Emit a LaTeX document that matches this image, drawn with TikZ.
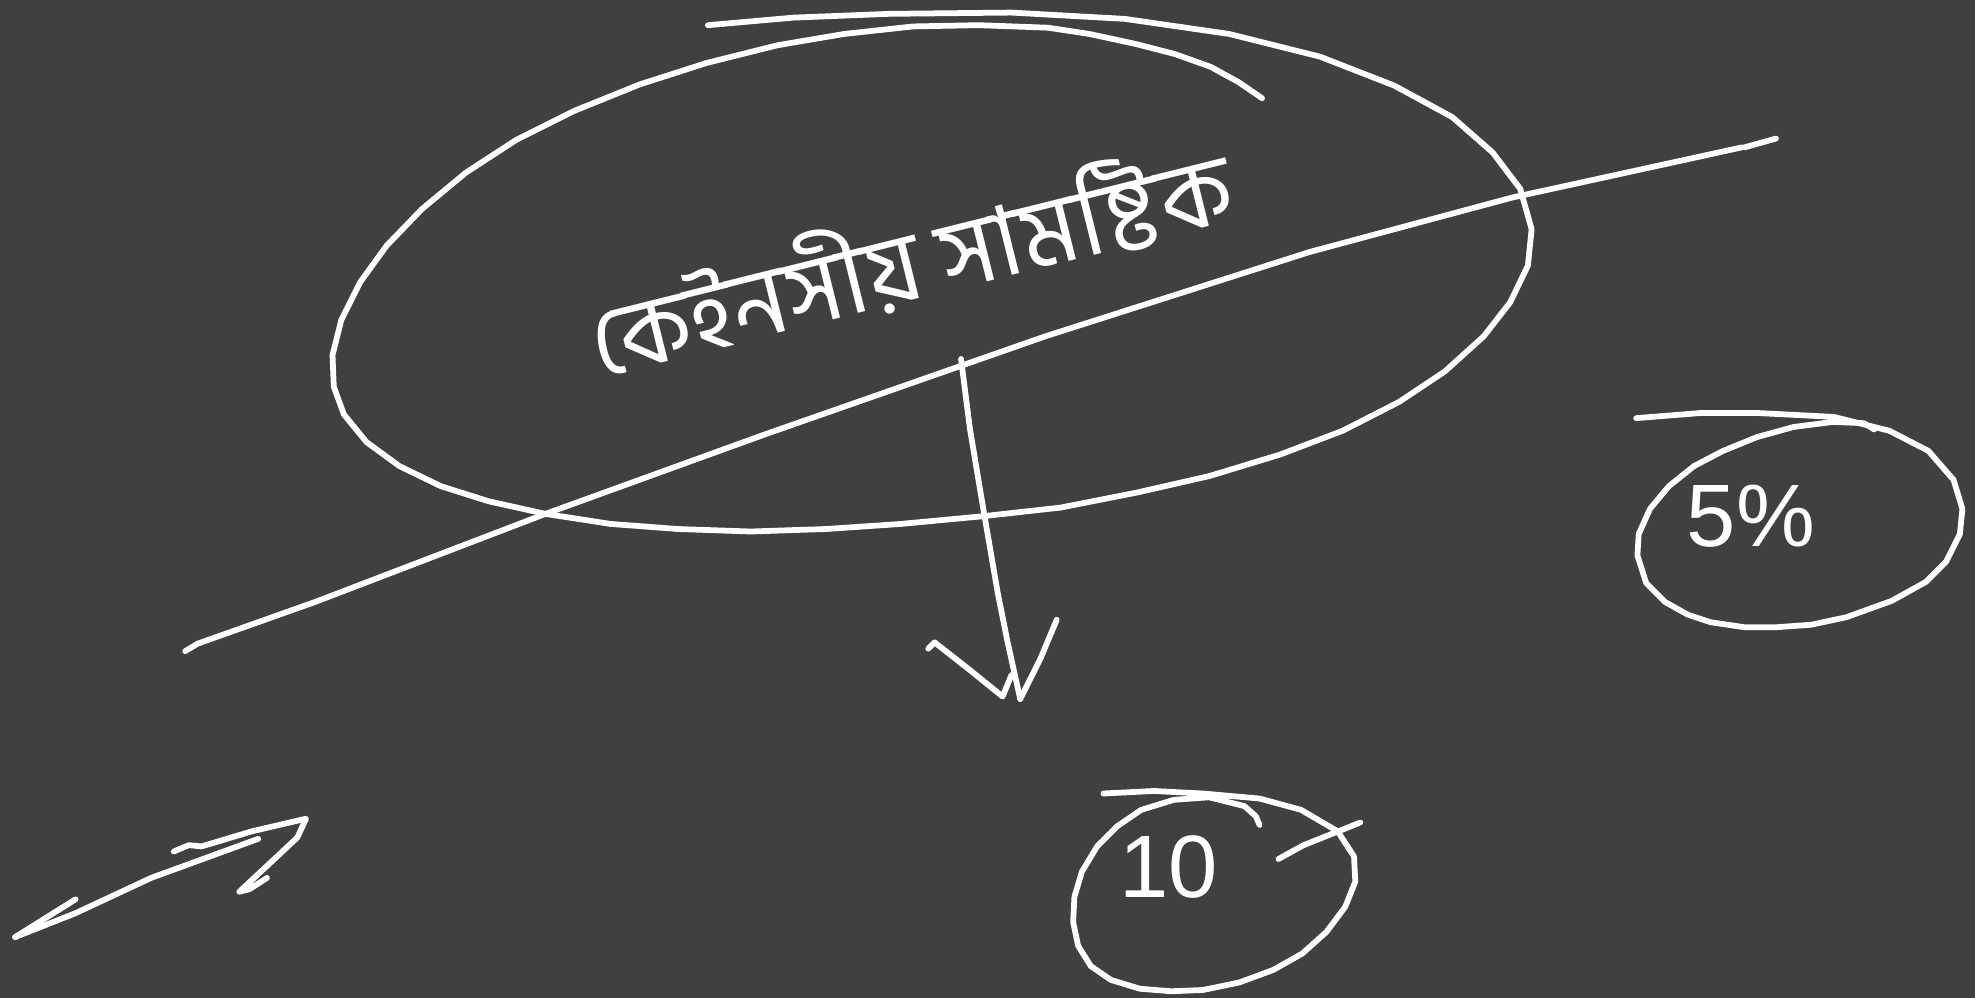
\documentclass[tikz,border=0pt]{standalone}
\usepackage{fontspec}
\newfontfamily\bengfont[Script=Bengali]{Hind Siliguri}
\setmainfont{Liberation Sans}
\definecolor{bg}{RGB}{64,64,64}
\tikzset{
  ink/.style={draw=white, line width=1.3pt, line cap=round, line join=round},
  handtext/.style={text=white, inner sep=0pt}
}
\begin{document}
\begin{tikzpicture}[x=0.01cm, y=-0.01cm]
\fill[bg] (0,0) rectangle (1568,792);
\useasboundingbox (0,0) rectangle (1568,792);

% big ellipse (hand drawn)
\draw[ink] (562,20) -- (630,14) -- (706,11) -- (803,10) -- (893,15) -- (976,27) -- (1048,45) -- (1107,68) -- (1153,93) -- (1185,121) -- (1207,150) -- (1216,182) -- (1213,211) -- (1199,240) -- (1178,267) -- (1147,295) -- (1111,319) -- (1066,342) -- (1016,361) -- (960,378) -- (903,391) -- (842,403) -- (779,410) -- (715,416) -- (656,420) -- (596,422) -- (538,420) -- (485,416) -- (433,408) -- (388,398) -- (350,386) -- (317,370) -- (291,351) -- (273,329) -- (265,307) -- (264,282) -- (271,254) -- (286,224) -- (307,195) -- (335,166) -- (370,137) -- (410,111) -- (456,88) -- (508,67) -- (561,50) -- (617,36) -- (670,27) -- (725,21) -- (777,20) -- (832,22) -- (865,27) -- (902,35) -- (933,43) -- (961,53) -- (983,65) -- (1002,78);

% long line across
\coordinate (lineA) at (147,517);
\coordinate (lineB) at (1410,110);
\draw[ink] (lineA) -- (157,511) -- (250,478) -- (433,408) -- (607,345) -- (830,267) -- (1040,200) -- (1200,157) -- (1383,117);
\draw[ink] (1385,117) -- (lineB);

% text in ellipse
\node[handtext, rotate=14] (title) at (722,205) {\bengfont\fontsize{22}{24}\selectfont কেইনসীয় সামষ্টিক};

% downward arrow
\coordinate (arrS) at (763,285);
\coordinate (arrE) at (810,555);
\draw[ink] (arrS) -- (770,340) -- (780,400) -- (792,470) -- (800,510) -- (arrE);
\draw[ink] (737,515) -- (742,510) -- (770,532) -- (796,553) -- (803,536);
\draw[ink] (839,492) -- (826,523) -- (arrE);

% 5% ellipse
\draw[ink] (1299,332) -- (1349,328) -- (1397,328) -- (1456,331) -- (1500,342) -- (1531,358) -- (1551,381) -- (1558,404) -- (1556,424) -- (1545,446) -- (1529,462) -- (1502,477) -- (1466,490) -- (1438,496) -- (1410,498) -- (1385,498) -- (1358,494) -- (1340,488) -- (1322,478) -- (1307,463) -- (1300,441) -- (1301,424) -- (1310,404) -- (1325,386) -- (1345,370) -- (1368,358) -- (1395,347) -- (1424,339) -- (1455,335) -- (1480,336) -- (1488,341);
\node[handtext, font=\fontsize{20}{22}\selectfont] (five) at (1390,410) {5\%};

% 10 ellipse
\draw[ink] (876,630) -- (916,628) -- (955,630) -- (1000,634) -- (1033,643) -- (1062,660) -- (1075,680) -- (1076,700) -- (1068,720) -- (1053,740) -- (1034,757) -- (1011,770) -- (984,780) -- (955,786) -- (930,787) -- (905,785) -- (882,778) -- (866,767) -- (856,751) -- (852,732) -- (853,712) -- (859,692) -- (871,672) -- (887,656) -- (906,643) -- (932,635) -- (960,633) -- (988,640) -- (997,648) -- (1000,655);
\draw[ink] (1015,682) -- (1035,671) -- (1080,653);
\node[handtext, font=\fontsize{20}{22}\selectfont] (ten) at (928,688) {10};

% double-headed arrow bottom left
\coordinate (dL) at (12,744);
\coordinate (dR) at (243,650);
\draw[ink] (dL) -- (60,725) -- (120,697) -- (205,666);
\draw[ink] (dL) -- (60,714);
\draw[ink] (138,676) -- (150,671) -- (160,672) -- (200,660) -- (dR) -- (236,665) -- (220,680) -- (190,708) -- (198,706) -- (212,697);
\end{tikzpicture}
\end{document}
